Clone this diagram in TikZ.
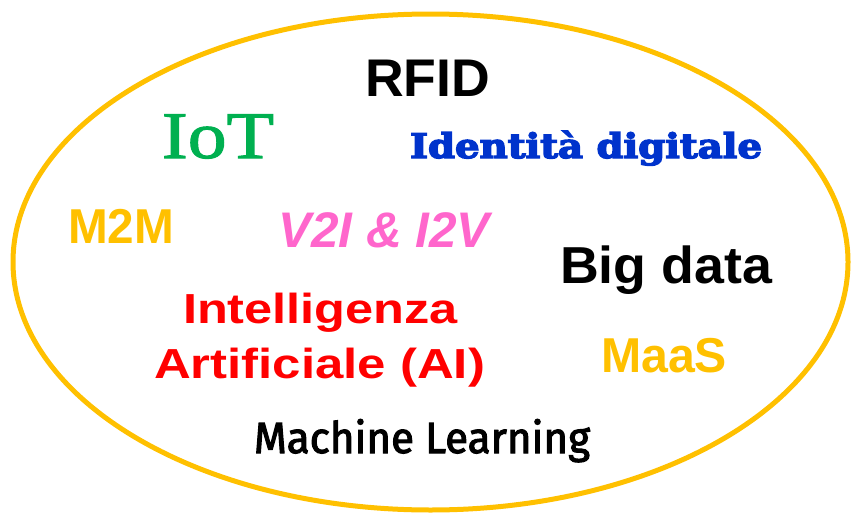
\documentclass[tikz,border=0pt]{standalone}
\usepackage{fontspec}
\usepackage{graphicx}
\setmainfont{Liberation Sans}
\newfontfamily\iotfont{Liberation Serif}[FakeBold=1.5]
\newfontfamily\idfont{DejaVu Serif Bold}[FakeBold=4]
\newfontfamily\mlfont{Fira Sans}[FakeBold=2.5]

\definecolor{ringgold}{HTML}{FFC000}
\definecolor{iotgreen}{HTML}{00B050}
\definecolor{idblue}{HTML}{0033CC}
\definecolor{vpink}{HTML}{FF66CC}
\definecolor{aired}{HTML}{FF0000}

% stretch a label to a given width, keeping its natural height
\newcommand\fitwidth[2]{\resizebox{#1}{\height}{#2}}
\newcommand\fsz[1]{\fontsize{#1}{#1}\selectfont}

\begin{document}
\begin{tikzpicture}[x=1pt,y=-1pt,
  lbl/.style={inner sep=0pt,outer sep=0pt,anchor=base west},
  ring/.style={draw=ringgold,line width=5pt}]
\useasboundingbox (0,0) rectangle (851,514);

% the enclosing ellipse
\draw[ring] (430.5,262) ellipse [x radius=417.5pt, y radius=248pt];

% labels
\node[lbl] (rfid) at (365,96)
  {\fitwidth{125pt}{\fsz{53}\bfseries RFID}};
\node[lbl,text=iotgreen] (iot) at (162,158)
  {\fitwidth{112pt}{\iotfont\fsz{66.5}IoT}};
\node[lbl,text=idblue] (ident) at (410,158)
  {\fitwidth{352pt}{\idfont\fsz{34}Identità digitale}};
\node[lbl,text=ringgold] (m2m) at (68,243)
  {\fitwidth{106pt}{\fsz{49}\bfseries M2M}};
\node[lbl,text=vpink] (v2i) at (278,247)
  {\fitwidth{212pt}{\fsz{50}\bfseries\itshape V2I \& I2V}};
\node[lbl] (bigdata) at (560,283)
  {\fitwidth{212pt}{\fsz{52}\bfseries Big data}};
\node[lbl,text=aired] (ai1) at (183,323)
  {\fitwidth{275pt}{\fsz{42}\bfseries Intelligenza}};
\node[lbl,text=aired] (ai2) at (154,378)
  {\fitwidth{331pt}{\fsz{42}\bfseries Artificiale (AI)}};
\node[lbl,text=ringgold] (maas) at (601,372)
  {\fitwidth{126pt}{\fsz{49}\bfseries MaaS}};
\node[lbl] (ml) at (254,453)
  {\fitwidth{336pt}{\mlfont\fsz{43.5}Machine Learning}};
\end{tikzpicture}
\end{document}
